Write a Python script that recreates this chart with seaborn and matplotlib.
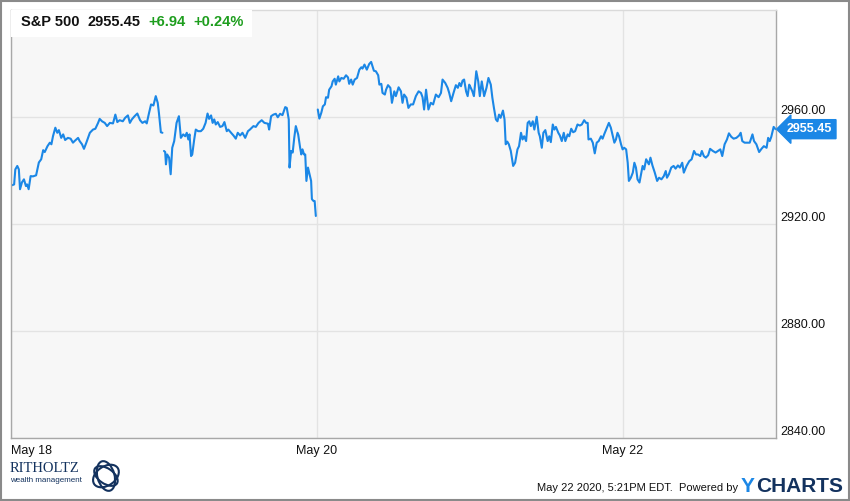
import numpy as np
import pandas as pd
import matplotlib
matplotlib.use("Agg")
import matplotlib.pyplot as plt
import matplotlib.transforms as mtransforms
from matplotlib.patches import Rectangle, Ellipse
import seaborn as sns

# ---------------- data ----------------
symbol = "S&P 500"
last_price = 2955.45
change = 6.94
change_pct = 0.24
date_labels = ["May 18", "May 20", "May 22"]
date_tick_days = [0, 2, 4]
y_ticks = [2840, 2880, 2920, 2960]
footer_text = "May 22 2020, 5:21PM EDT.  Powered by"

# minutes after the 9:30 open, and price, for each trading day
d1_min = [3, 8, 11, 16, 20, 23, 28, 33, 38, 41, 45, 50, 56, 64, 71, 77, 82, 86, 93, 99,
          103, 107, 113, 118, 122, 128, 133, 138, 145, 152, 158, 162, 171, 175, 181, 186, 192, 201, 209, 215,
          222, 226, 232, 239, 245, 252, 260, 266, 271, 277, 285, 291, 298, 303, 308, 315, 322, 329, 335, 342,
          346, 352, 357, 363, 369, 374, 377, 382, 386]
d1_px = [2934.5, 2934.8, 2940.4, 2941.7, 2940.4, 2933.0, 2935.6, 2936.7, 2934.2, 2934.8,
         2933.0, 2937.9, 2937.8, 2938.2, 2943.0, 2944.2, 2947.6, 2946.9, 2949.1, 2950.4,
         2949.8, 2952.8, 2956.0, 2954.1, 2955.1, 2952.2, 2953.5, 2951.4, 2952.2, 2951.9,
         2950.4, 2951.0, 2952.2, 2951.0, 2949.8, 2948.1, 2950.4, 2954.1, 2955.3, 2955.6,
         2957.8, 2959.3, 2958.4, 2957.8, 2956.6, 2957.8, 2957.6, 2960.9, 2958.1, 2958.8,
         2958.4, 2959.7, 2960.6, 2957.8, 2959.1, 2960.3, 2961.3, 2958.8, 2957.8, 2958.4,
         2957.6, 2961.6, 2964.7, 2964.3, 2967.8, 2965.3, 2961.6, 2954.3, 2954.1]

d2_min = [0, 3, 5, 8, 13, 17, 21, 26, 32, 38, 43, 49, 54, 58, 62, 65, 69, 72, 77, 81,
          87, 94, 100, 106, 111, 115, 120, 124, 128, 132, 137, 143, 149, 154, 160, 164, 171, 177, 183, 188,
          194, 200, 207, 214, 219, 228, 234, 241, 249, 256, 265, 268, 273, 279, 285, 290, 296, 302, 309, 313,
          318, 320, 324, 328, 332, 336, 342, 347, 350, 353, 357, 360, 363, 367, 371, 375, 377, 381, 384, 387]
d2_px = [2947.3, 2946.9, 2942.3, 2946.0, 2944.8, 2938.6, 2948.5, 2951.0, 2957.8, 2960.3,
         2952.2, 2953.5, 2952.8, 2954.1, 2951.6, 2953.5, 2945.4, 2946.0, 2951.6, 2955.3,
         2954.7, 2954.7, 2955.6, 2957.8, 2961.3, 2959.3, 2960.6, 2957.8, 2959.1, 2957.2,
         2958.1, 2956.3, 2956.6, 2958.1, 2954.7, 2955.3, 2954.1, 2953.1, 2951.9, 2954.1,
         2953.1, 2954.1, 2952.2, 2954.7, 2955.3, 2956.6, 2956.3, 2957.8, 2958.8, 2957.8,
         2957.5, 2955.3, 2960.3, 2960.9, 2961.2, 2959.9, 2961.2, 2960.7, 2963.7, 2963.4,
         2959.1, 2941.1, 2947.3, 2946.7, 2952.2, 2956.6, 2953.5, 2948.5, 2946.0, 2947.9,
         2946.0, 2946.0, 2936.1, 2941.1, 2938.6, 2936.1, 2929.3, 2928.6, 2928.6, 2923.0]

d3_min = [2, 6, 11, 15, 20, 23, 28, 31, 37, 40, 45, 48, 54, 57, 62, 68, 74, 79, 82, 87,
          91, 96, 102, 108, 113, 116, 121, 127, 133, 138, 145, 150, 156, 159, 164, 167, 173, 176, 181, 187,
          191, 197, 201, 208, 214, 218, 222, 228, 233, 239, 245, 252, 259, 265, 269, 273, 278, 284, 290, 296,
          303, 310, 316, 320, 327, 333, 337, 342, 348, 354, 359, 363, 367, 371, 375, 380, 384, 388]
d3_px = [2962.8, 2959.4, 2961.6, 2964.0, 2964.7, 2967.4, 2967.2, 2970.2, 2971.5, 2973.3,
         2974.3, 2972.1, 2975.2, 2973.3, 2974.6, 2974.3, 2975.6, 2974.8, 2972.4, 2974.0,
         2972.1, 2974.0, 2974.6, 2977.7, 2978.6, 2978.1, 2979.6, 2977.7, 2979.8, 2980.6,
         2977.3, 2977.1, 2975.6, 2972.1, 2972.4, 2969.0, 2968.4, 2970.2, 2971.9, 2970.9,
         2965.3, 2969.6, 2967.8, 2971.1, 2969.6, 2965.3, 2968.4, 2967.2, 2963.4, 2964.7,
         2964.7, 2967.8, 2969.6, 2969.0, 2967.4, 2962.8, 2970.2, 2962.8, 2965.3, 2964.7,
         2968.4, 2967.4, 2969.0, 2974.0, 2972.7, 2970.9, 2969.0, 2965.9, 2969.0, 2971.9,
         2970.9, 2972.7, 2971.5, 2973.6, 2974.0, 2969.6, 2967.8, 2972.1]

d4_min = [2, 6, 10, 16, 21, 25, 30, 36, 42, 47, 53, 57, 61, 66, 70, 74, 78, 84, 88, 91,
          95, 99, 104, 110, 115, 121, 125, 130, 134, 138, 143, 147, 151, 155, 160, 164, 170, 175, 178, 183,
          187, 192, 198, 202, 206, 211, 215, 219, 225, 229, 234, 239, 243, 249, 253, 258, 263, 268, 274, 280,
          285, 291, 296, 300, 302, 308, 313, 318, 323, 328, 334, 338, 342, 347, 354, 359, 364, 368, 372, 376,
          380, 385, 389]
d4_px = [2970.9, 2969.6, 2967.8, 2977.1, 2973.3, 2967.8, 2973.3, 2967.8, 2970.9, 2974.6,
         2972.1, 2967.2, 2963.4, 2959.1, 2958.4, 2960.9, 2959.7, 2962.4, 2959.1, 2949.8,
         2950.8, 2949.8, 2947.3, 2941.7, 2942.9, 2947.9, 2949.1, 2954.1, 2951.6, 2952.8,
         2951.0, 2957.8, 2958.4, 2956.6, 2958.4, 2955.3, 2960.1, 2954.1, 2952.8, 2948.5,
         2954.1, 2955.1, 2951.0, 2952.8, 2950.6, 2957.2, 2955.3, 2956.3, 2954.1, 2953.1,
         2951.0, 2954.1, 2951.0, 2953.5, 2952.8, 2955.6, 2954.3, 2954.7, 2957.2, 2956.8,
         2957.2, 2958.8, 2957.8, 2957.8, 2951.6, 2951.9, 2950.4, 2946.4, 2950.4, 2951.0,
         2952.8, 2951.9, 2953.5, 2955.3, 2957.8, 2956.0, 2952.8, 2950.4, 2951.6, 2954.1,
         2952.8, 2949.8, 2947.9]

d5_min = [3, 8, 12, 15, 20, 25, 29, 33, 37, 42, 46, 50, 54, 59, 66, 70, 75, 81, 87, 92,
          98, 104, 109, 112, 117, 123, 129, 134, 140, 145, 151, 155, 162, 169, 175, 181, 186, 191, 197, 201,
          206, 211, 217, 222, 229, 236, 242, 248, 253, 259, 265, 270, 276, 282, 289, 296, 300, 304, 310, 316,
          323, 330, 334, 340, 347, 353, 359, 366, 370, 374, 378, 384, 389]
d5_px = [2948.5, 2947.9, 2942.9, 2936.1, 2937.3, 2939.2, 2942.9, 2941.1, 2936.7, 2935.5,
         2938.6, 2941.7, 2940.4, 2944.2, 2942.3, 2944.8, 2941.9, 2939.2, 2936.1, 2937.3,
         2936.7, 2937.9, 2939.8, 2937.3, 2938.6, 2941.1, 2941.7, 2940.7, 2941.9, 2941.1,
         2942.9, 2939.2, 2941.7, 2943.5, 2944.2, 2947.3, 2946.0, 2946.0, 2945.4, 2947.3,
         2945.4, 2944.8, 2945.7, 2948.1, 2947.3, 2946.7, 2947.3, 2947.9, 2945.4, 2949.8,
         2951.6, 2953.9, 2952.6, 2951.9, 2952.2, 2953.1, 2954.1, 2951.0, 2950.4, 2950.4,
         2950.4, 2953.5, 2951.0, 2949.8, 2946.9, 2948.1, 2949.1, 2948.5, 2952.2, 2951.0,
         2952.6, 2956.3, 2955.45]

days_min = [d1_min, d2_min, d3_min, d4_min, d5_min]
days_px = [d1_px, d2_px, d3_px, d4_px, d5_px]
# the line breaks at the May 19 and May 20 opens, continuous afterwards
day_segment = [0, 1, 2, 2, 2]

# ---------------- style ----------------
BLUE = "#1B87E6"
GREEN = "#1E9E1E"
NAVY = "#13325E"

sns.set_theme(style="white")
plt.rcParams["font.family"] = ["Liberation Sans", "DejaVu Sans"]

frames = []
for i, (mins, px) in enumerate(zip(days_min, days_px)):
    if len(mins) != len(px):
        raise ValueError(f"day {i} length mismatch {len(mins)} vs {len(px)}")
    frames.append(pd.DataFrame({
        "t": i + np.asarray(mins) / 390.0,
        "price": px,
        "segment": day_segment[i],
    }))
df = pd.concat(frames, ignore_index=True)

fig = plt.figure(figsize=(8.5, 5.01), dpi=100)
ax = fig.add_axes([11 / 850, 63 / 501, 765 / 850, 428 / 501])
ax.set_facecolor("#F7F7F7")

sns.lineplot(data=df, x="t", y="price", units="segment", estimator=None,
             color=BLUE, lw=1.5, ax=ax, legend=False)

ax.set_xlim(0, 5)
ax.set_ylim(2840, 3000)
ax.set_xticks(date_tick_days)
ax.set_xticklabels(date_labels)
ax.set_yticks(y_ticks)
ax.set_yticklabels([f"{v:.2f}" for v in y_ticks])
ax.yaxis.tick_right()
ax.set_xlabel("")
ax.set_ylabel("")
ax.tick_params(axis="both", length=0, labelsize=9, colors="#111111")
ax.tick_params(axis="y", pad=3)
ax.tick_params(axis="x", pad=5)
for lbl in ax.get_yticklabels():
    lbl.set_va("bottom")
ax.get_xticklabels()[0].set_ha("left")
ax.grid(True, color="#E3E3E3", lw=1)
ax.set_axisbelow(True)
for name, sp in ax.spines.items():
    sp.set_visible(True)
    sp.set_linewidth(1)
    sp.set_color("#A8A8A8" if name != "top" else "#DADADA")

# last price tag
trans = mtransforms.blended_transform_factory(ax.transAxes, ax.transData)
ax.annotate(f"{last_price:.2f}", xy=(1, last_price), xycoords=trans,
            xytext=(8, 0), textcoords="offset points", ha="left", va="center",
            fontsize=9, fontweight="bold", color="white",
            bbox=dict(boxstyle="larrow,pad=0.28", fc=BLUE, ec=BLUE),
            annotation_clip=False, zorder=10)

# quote header box
ax.add_patch(Rectangle((0, 1 - 27 / 428), 241 / 765, 27 / 428, transform=ax.transAxes,
                       facecolor="white", edgecolor="none", zorder=5))
hy = 1 - 12.5 / 428
ax.text(10 / 765, hy, symbol, transform=ax.transAxes, fontsize=10.5, fontweight="bold",
        color="#111111", va="center", ha="left", zorder=6)
ax.text(77 / 765, hy, f"{last_price:.2f}", transform=ax.transAxes, fontsize=10.5,
        fontweight="bold", color="#111111", va="center", ha="left", zorder=6)
ax.text(137 / 765, hy, f"+{change:.2f}", transform=ax.transAxes, fontsize=10.5,
        fontweight="bold", color=GREEN, va="center", ha="left", zorder=6)
ax.text(182 / 765, hy, f"+{change_pct:.2f}%", transform=ax.transAxes, fontsize=10.5,
        fontweight="bold", color=GREEN, va="center", ha="left", zorder=6)

# footer
fig.text(738 / 850, 13 / 501, footer_text, ha="right", va="center", fontsize=8, color="#111111")
fig.text(741 / 850, 14 / 501, "Y", ha="left", va="center", fontsize=15, fontweight="bold", color=BLUE)
fig.text(756 / 850, 14 / 501, "CHARTS", ha="left", va="center", fontsize=15, fontweight="bold", color=NAVY)

# logo
fig.text(10 / 850, 33 / 501, "RITHOLTZ", ha="left", va="center", fontsize=10.5,
         family=["Liberation Serif", "DejaVu Serif"], color=NAVY)
fig.text(10 / 850, 20 / 501, "wealth management", ha="left", va="center", fontsize=5.8, color=NAVY)
logo_ax = fig.add_axes([86 / 850, 6 / 501, 38 / 850, 38 / 501])
logo_ax.set_xlim(-1, 1)
logo_ax.set_ylim(-1, 1)
logo_ax.set_aspect("equal")
logo_ax.axis("off")
for w, h, ang in [(1.5, 1.0, 35), (1.4, 0.8, -35), (0.9, 1.6, 15)]:
    logo_ax.add_patch(Ellipse((0.05, 0.0), w, h, angle=ang, fill=False, ec=NAVY, lw=1.5))

# outer frame
fig.patches.append(Rectangle((0.001, 0.001), 0.998, 0.997, transform=fig.transFigure,
                             fill=False, ec="#8A8A8A", lw=1.5))

fig.savefig("out.png", dpi=100)
